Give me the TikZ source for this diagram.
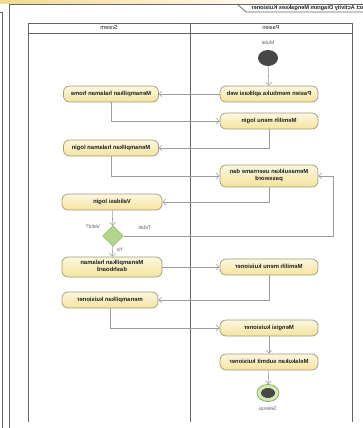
\documentclass[tikz,border=0pt]{standalone}
\usepackage{fontspec}
\setmainfont{Liberation Sans}
\usetikzlibrary{shapes.geometric,arrows.meta,positioning}
\definecolor{kuning}{HTML}{F3E49C}
\definecolor{tepi}{HTML}{A39A74}
\definecolor{hijau}{HTML}{B3D58A}
\definecolor{hijautua}{HTML}{86AE58}
\definecolor{hijaumuda}{HTML}{D6EAB8}
\definecolor{panah}{HTML}{9C9C9C}
\definecolor{garis}{HTML}{666666}
\definecolor{teks}{HTML}{202020}
\newcommand{\cermin}[1]{\reflectbox{\begin{tabular}{@{}c@{}}#1\end{tabular}}}

\begin{document}
\begin{tikzpicture}[x=1pt,y=-1pt,
	>={Straight Barb[length=3pt,width=6pt]},
	font=\fontsize{5.9}{7}\selectfont\bfseries,
	text=teks,
	aktivitas/.style={draw=tepi,line width=0.7pt,rounded corners=6pt,
		top color=kuning!30,bottom color=kuning,minimum height=16pt,inner sep=1pt},
	keputusan/.style={diamond,draw=hijautua,fill=hijau,minimum width=21pt,
		minimum height=21pt,inner sep=0pt},
	awal/.style={ellipse,fill=black!72,minimum width=20pt,minimum height=16pt,inner sep=0pt},
	akhir/.style={ellipse,draw=hijautua,line width=0.8pt,fill=hijaumuda,
		minimum width=22pt,minimum height=17pt,inner sep=0pt},
	inti/.style={ellipse,fill=black!72,minimum width=14pt,minimum height=10pt,inner sep=0pt},
	alur/.style={->,draw=panah,line width=0.55pt},
	bingkai/.style={draw=garis,line width=0.75pt},
	keterangan/.style={font=\fontsize{5.3}{6}\selectfont,text=black!60},]
	\useasboundingbox (0,0) rectangle (363,428);
	\clip (0,0) rectangle (363,428);

	\shade[left color=kuning!90!orange,right color=white] (0,0) rectangle (295,4);
	\draw[bingkai] (0,12) -- (2,12) -- (2,428);
	\draw[bingkai] (9,428) -- (9,4) -- (363,4);
	\draw[bingkai] (237,4) -- (246,12) -- (363,12);
	\node[anchor=west,font=\fontsize{5.6}{6.5}\selectfont\bfseries] (judul) at (248,8)
		{\cermin{act Activity Diagram Mengakses Kuisioner}};

	\draw[bingkai] (28,422) -- (28,23) -- (352,23) -- (352,422);
	\draw[bingkai] (28,33) -- (352,33);
	\draw[bingkai] (190,23) -- (190,422);
	\node[font=\fontsize{5.6}{6.5}\selectfont] (sistem) at (109,28) {\cermin{Sistem}};
	\node[font=\fontsize{5.6}{6.5}\selectfont] (pasien) at (271,28) {\cermin{Pasien}};

	\node[awal] (mulai) at (268,58) {};
	\node[keterangan] (labelmulai) at (268,43) {\cermin{Mulai}};
	\node[aktivitas,minimum width=98pt] (bukaweb) at (269,94) {\cermin{Pasien membuka aplikasi web}};
	\node[aktivitas,minimum width=95pt] (home) at (111,94) {\cermin{Menampilkan halaman home}};
	\node[aktivitas,minimum width=98pt] (menulogin) at (269,121) {\cermin{Memilih menu login}};
	\node[aktivitas,minimum width=95pt] (hallogin) at (111,148) {\cermin{Menampilkan halaman login}};
	\node[aktivitas,minimum width=98pt,minimum height=22pt] (inputakun) at (269,176)
		{\cermin{Memasukkan username dan\\password}};
	\node[aktivitas,minimum width=100pt] (validasi) at (112,202) {\cermin{Validasi login}};
	\node[keputusan] (valid) at (113,236) {};
	\node[keterangan] (labelvalid) at (93,227) {\cermin{Valid?}};
	\node[aktivitas,minimum width=100pt,minimum height=20pt] (dashboard) at (112,267)
		{\cermin{Menampilkan halaman\\dashboard}};
	\node[aktivitas,minimum width=98pt] (menukuis) at (269,267) {\cermin{Memilih menu kuisioner}};
	\node[aktivitas,minimum width=96pt] (tampilkuis) at (110,300) {\cermin{menampilkan kuisioner}};
	\node[aktivitas,minimum width=98pt] (isikuis) at (269,328) {\cermin{Mengisi kuisioner}};
	\node[aktivitas,minimum width=98pt] (submit) at (269,362) {\cermin{Melakukan submit kuisioner}};
	\node[akhir] (selesai) at (268,393) {};
	\node[inti] (intiselesai) at (selesai) {};
	\node[keterangan] (labelselesai) at (268,409) {\cermin{Selesai}};

	\coordinate (balik) at (333,236);
	\draw[alur] (mulai) -- (bukaweb);
	\draw[alur] (bukaweb) -- (home);
	\draw[alur] (home.south) |- (menulogin.west);
	\draw[alur] (menulogin.south) |- (hallogin.east);
	\draw[alur] (hallogin.south) |- (inputakun.west);
	\draw[alur] (inputakun.south) |- (validasi.east);
	\draw[alur] (validasi) -- (valid);
	\draw[alur] (valid.east) -- node[keterangan,above=1pt,pos=0.1] (tidak) {\cermin{Tidak}}
		(balik) |- (inputakun.east);
	\draw[alur] (valid) -- node[keterangan,right=1pt,pos=0.35] (ya) {\cermin{Ya}} (dashboard);
	\draw[alur] (dashboard) -- (menukuis);
	\draw[alur] (menukuis.south) |- (tampilkuis.east);
	\draw[alur] (tampilkuis.south) |- (isikuis.west);
	\draw[alur] (isikuis) -- (submit);
	\draw[alur] (submit) -- (selesai);
\end{tikzpicture}
\end{document}
